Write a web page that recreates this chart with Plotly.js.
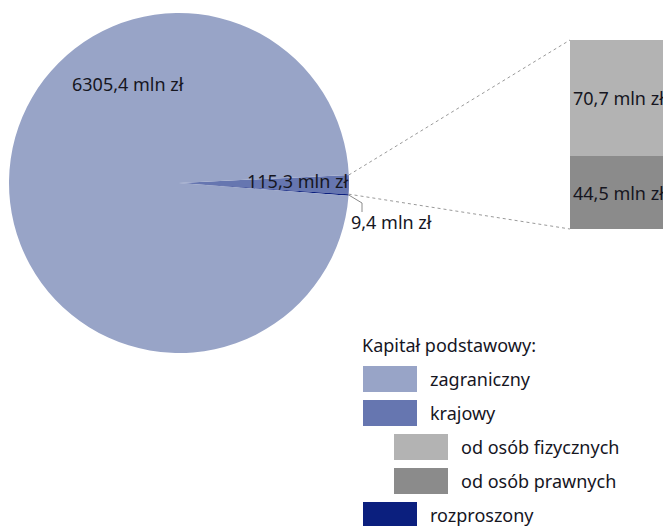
<!DOCTYPE html>
<html>
<head>
<meta charset="utf-8">
<script src="https://cdn.plot.ly/plotly-3.0.1.min.js"></script>
<style>html,body{margin:0;padding:0;background:#fff;}#chart{width:663px;height:526px;}</style>
</head>
<body>
<div id="chart"></div>
<script>
// ---- data ----
var pieLabels = ['krajowy', 'rozproszony', 'zagraniczny'];
var pieValues = [115.3, 9.4, 6305.4];
var pieColors = ['#6676b0', '#0b1f7e', '#98a4c7'];

var barLabels = ['od osób prawnych', 'od osób fizycznych'];
var barValues = [44.5, 70.7];
var barColors = ['#8b8b8b', '#b3b3b3'];

var legendTitle = 'Kapitał podstawowy:';
var legendLabels = ['zagraniczny', 'krajowy', 'od osób fizycznych', 'od osób prawnych', 'rozproszony'];
var legendColors = ['#98a4c7', '#6676b0', '#b3b3b3', '#8b8b8b', '#0b1f7e'];
var legendIndent = [0, 0, 1, 1, 0];

// ---- geometry ----
var W = 663, H = 526;
var FONT = 'Noto Sans, sans-serif';
var FS = 18;
var TXT = '#16161f';
function px(x) { return x / W; }
function py(y) { return 1 - y / H; }
function fmt(v) { return v.toFixed(1).replace('.', ',') + ' mln zł'; }
function ann(x, y, text, xanchor, extra) {
  var a = { xref: 'paper', yref: 'paper', x: px(x), y: py(y), text: text, showarrow: false,
    xanchor: xanchor || 'center', yanchor: 'middle', font: { family: FONT, size: FS, color: TXT } };
  if (extra) for (var k in extra) a[k] = extra[k];
  return a;
}

var pieCx = 179, pieCy = 183, pieR = 170;
var rotation = 87.3;
var total = pieValues.reduce(function (a, b) { return a + b; }, 0);

var barLeft = 570, barTop = 40, barBottom = 229;

function piePoint(angleDeg) {
  var a = angleDeg * Math.PI / 180;
  return [pieCx + pieR * Math.sin(a), pieCy - pieR * Math.cos(a)];
}
var aStart = rotation;
var aKrajEnd = rotation + 360 * pieValues[0] / total;
var aRozEnd = aKrajEnd + 360 * pieValues[1] / total;
var pTop = piePoint(aStart);
var pBot = piePoint(aKrajEnd);
var pRoz = piePoint((aKrajEnd + aRozEnd) / 2);

var traces = [];
traces.push({
  type: 'pie',
  labels: pieLabels,
  values: pieValues,
  sort: false,
  direction: 'clockwise',
  rotation: rotation,
  marker: { colors: pieColors, line: { width: 0 } },
  textinfo: 'none',
  hoverinfo: 'label+value',
  showlegend: false,
  domain: { x: [px(pieCx - pieR), px(pieCx + pieR)], y: [py(pieCy + pieR), py(pieCy - pieR)] }
});

var barSum = barValues.reduce(function (a, b) { return a + b; }, 0);
for (var i = 0; i < barValues.length; i++) {
  traces.push({
    type: 'bar',
    x: [1],
    y: [barValues[i]],
    width: [2],
    name: barLabels[i],
    marker: { color: barColors[i], line: { width: 0 } },
    xaxis: 'x2', yaxis: 'y2',
    showlegend: false,
    hoverinfo: 'name+y'
  });
}

var shapes = [];
var annotations = [];

// connector dotted lines
shapes.push({ type: 'line', xref: 'paper', yref: 'paper', x0: px(pTop[0]), y0: py(pTop[1]), x1: px(barLeft), y1: py(barTop), line: { color: '#9a9a9a', width: 1, dash: 'dot' } });
shapes.push({ type: 'line', xref: 'paper', yref: 'paper', x0: px(pBot[0]), y0: py(pBot[1]), x1: px(barLeft), y1: py(barBottom), line: { color: '#9a9a9a', width: 1, dash: 'dot' } });
// leader for rozproszony
shapes.push({ type: 'path', xref: 'paper', yref: 'paper',
  path: 'M' + px(pRoz[0]) + ',' + py(pRoz[1]) + ' L' + px(362) + ',' + py(203) + ' L' + px(362) + ',' + py(212),
  line: { color: '#8a8a8a', width: 1 } });

// pie labels
annotations.push(ann(128, 84, fmt(pieValues[2]), 'center'));
annotations.push(ann(297, 181, fmt(pieValues[0]), 'center'));
annotations.push(ann(349, 222, fmt(pieValues[1]), 'left'));

// bar labels
var cum = 0;
for (var j = 0; j < barValues.length; j++) {
  annotations.push({ xref: 'paper', yref: 'y2', x: px(barLeft + 1), y: cum + barValues[j] / 2, xanchor: 'left', yanchor: 'middle',
    text: fmt(barValues[j]), showarrow: false, font: { family: FONT, size: FS, color: TXT } });
  cum += barValues[j];
}

// legend
var legX = 363, legIndentStep = 31, legY0 = 366, legStep = 34, swW = 54, swH = 26, txtGap = 13;
annotations.push(ann(360, 345, legendTitle, 'left'));
for (var k = 0; k < legendLabels.length; k++) {
  var x0 = legX + legendIndent[k] * legIndentStep;
  var y0 = legY0 + k * legStep;
  shapes.push({ type: 'rect', xref: 'paper', yref: 'paper', x0: px(x0), x1: px(x0 + swW), y0: py(y0), y1: py(y0 + swH), fillcolor: legendColors[k], line: { width: 0 } });
  annotations.push(ann(x0 + swW + txtGap - 2, y0 + swH / 2, legendLabels[k], 'left'));
}

var layout = {
  width: W, height: H,
  margin: { l: 0, r: 0, t: 0, b: 0 },
  paper_bgcolor: '#ffffff', plot_bgcolor: 'rgba(0,0,0,0)',
  barmode: 'stack',
  showlegend: false,
  xaxis: { visible: false },
  yaxis: { visible: false },
  xaxis2: { domain: [px(barLeft), 1], range: [0, 1], visible: false, fixedrange: true, anchor: 'y2' },
  yaxis2: { domain: [py(barBottom), py(barTop)], range: [0, barSum], visible: false, fixedrange: true, anchor: 'x2' },
  shapes: shapes,
  annotations: annotations
};

Plotly.newPlot('chart', traces, layout, { displayModeBar: false, staticPlot: true });
</script>
</body>
</html>
